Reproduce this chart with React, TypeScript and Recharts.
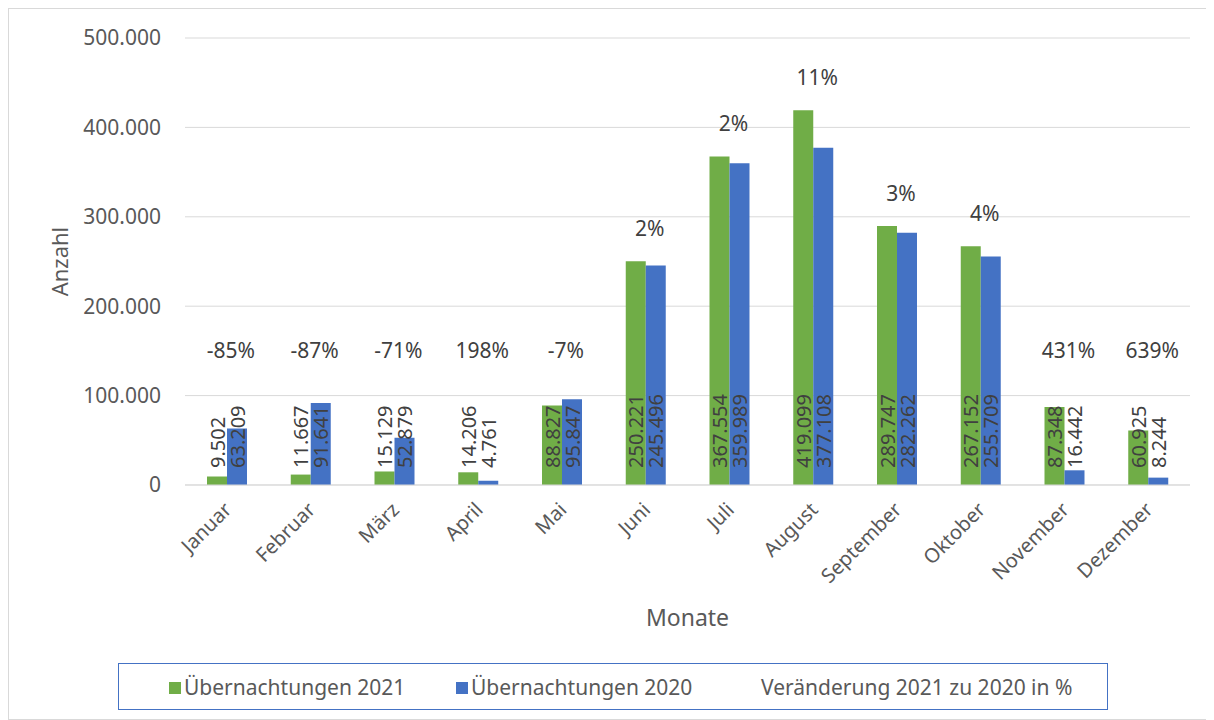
import React from 'react';
import { ComposedChart, Bar, Line, XAxis, YAxis, CartesianGrid, LabelList, Label } from 'recharts';

// Monate und Werte
const MONTHS = ['Januar', 'Februar', 'März', 'April', 'Mai', 'Juni', 'Juli', 'August', 'September', 'Oktober', 'November', 'Dezember'];
const NIGHTS_2021 = [9502, 11667, 15129, 14206, 88827, 250221, 367554, 419099, 289747, 267152, 87348, 60925];
const NIGHTS_2020 = [63209, 91641, 52879, 4761, 95847, 245496, 359989, 377108, 282262, 255709, 16442, 8244];
const CHANGE_PCT = ['-85%', '-87%', '-71%', '198%', '-7%', '2%', '2%', '11%', '3%', '4%', '431%', '639%'];
const Y_TICKS = [0, 100000, 200000, 300000, 400000, 500000];

const GREEN = '#70AD47';
const BLUE = '#4472C4';
const TEXT = '#404040';
const GREY = '#595959';
const FONT = '"Noto Sans", "Open Sans", sans-serif';

// Prozent-Labels sitzen über dem höheren Balken, aber nie tiefer als ein Mindestniveau
const data = MONTHS.map((m, i) => ({
  month: m,
  y2021: NIGHTS_2021[i],
  y2020: NIGHTS_2020[i],
  anchor: Math.max(NIGHTS_2021[i], NIGHTS_2020[i], 114000),
}));

const fmt = (v: number) => String(v).replace(/\B(?=(\d{3})+(?!\d))/g, '.');

const XTick = (props: any) => {
  const { x, y, payload } = props;
  const tx = x + 6;
  const ty = y + 18;
  return (
    <text
      x={tx}
      y={ty}
      textAnchor="end"
      fill={GREY}
      fontSize={20}
      fontFamily={FONT}
      transform={`rotate(-45, ${tx}, ${ty})`}
    >
      {payload.value}
    </text>
  );
};

const barValueLabel = (props: any) => {
  const { x, y, width, height, value } = props;
  const cx = x + width / 2;
  const by = y + height - 17;
  return (
    <text
      x={cx}
      y={by}
      fill={TEXT}
      fontSize={20}
      fontFamily={FONT}
      textAnchor="start"
      dominantBaseline="central"
      transform={`rotate(-90, ${cx}, ${by})`}
    >
      {fmt(value)}
    </text>
  );
};

const pctLabel = (props: any) => {
  const { x, y, index } = props;
  return (
    <text x={x + 4} y={y - 33} fill={TEXT} fontSize={21} fontFamily={FONT} textAnchor="middle" dominantBaseline="central">
      {CHANGE_PCT[index]}
    </text>
  );
};

const LegendBox = () => (
  <div
    style={{
      position: 'absolute',
      left: 109,
      top: 654,
      width: 988,
      height: 45,
      border: `1.5px solid ${BLUE}`,
      fontFamily: FONT,
      fontSize: 21,
      lineHeight: '28px',
      color: GREY,
    }}
  >
    <div style={{ position: 'absolute', left: 50, top: 18, width: 12, height: 12, background: GREEN }} />
    <span style={{ position: 'absolute', left: 65, top: 9 }}>Übernachtungen 2021</span>
    <div style={{ position: 'absolute', left: 337, top: 18, width: 12, height: 12, background: BLUE }} />
    <span style={{ position: 'absolute', left: 352, top: 9 }}>Übernachtungen 2020</span>
    <span style={{ position: 'absolute', left: 642, top: 9 }}>Veränderung 2021 zu 2020 in %</span>
  </div>
);

export default function App() {
  return (
    <div style={{ position: 'relative', width: 1204, height: 710, border: '1px solid #D9D9D9', background: '#fff' }}>
      <ComposedChart
        width={1204}
        height={710}
        data={data}
        margin={{ top: 29, right: 23, left: 76, bottom: 114 }}
        barGap={0}
        barSize={20}
      >
        <CartesianGrid vertical={false} stroke="#D9D9D9" />
        <XAxis
          dataKey="month"
          height={120}
          tick={<XTick />}
          tickLine={false}
          axisLine={{ stroke: '#D9D9D9' }}
          interval={0}
        >
          <Label
            content={({ viewBox }: any) => (
              <text
                x={viewBox.x + viewBox.width / 2}
                y={viewBox.y + 132}
                textAnchor="middle"
                dominantBaseline="central"
                fill={GREY}
                fontSize={23}
                fontFamily={FONT}
              >
                Monate
              </text>
            )}
          />
        </XAxis>
        <YAxis
          width={100}
          domain={[0, 500000]}
          ticks={Y_TICKS}
          tickFormatter={fmt}
          tickLine={false}
          tickSize={0}
          tickMargin={24}
          axisLine={false}
          tick={{ fill: GREY, fontSize: 21, fontFamily: FONT }}
        >
          <Label
            content={({ viewBox }: any) => {
              const cy = viewBox.y + viewBox.height / 2;
              return (
                <text
                  x={50}
                  y={cy}
                  textAnchor="middle"
                  dominantBaseline="central"
                  fill={GREY}
                  fontSize={22}
                  fontFamily={FONT}
                  transform={`rotate(-90, 50, ${cy})`}
                >
                  Anzahl
                </text>
              );
            }}
          />
        </YAxis>
        <Bar dataKey="y2021" name="Übernachtungen 2021" fill={GREEN} isAnimationActive={false}>
          <LabelList dataKey="y2021" content={barValueLabel} />
        </Bar>
        <Bar dataKey="y2020" name="Übernachtungen 2020" fill={BLUE} isAnimationActive={false}>
          <LabelList dataKey="y2020" content={barValueLabel} />
        </Bar>
        <Line
          dataKey="anchor"
          name="Veränderung 2021 zu 2020 in %"
          stroke="none"
          dot={false}
          activeDot={false}
          isAnimationActive={false}
          label={pctLabel}
        />
      </ComposedChart>
      <LegendBox />
    </div>
  );
}
